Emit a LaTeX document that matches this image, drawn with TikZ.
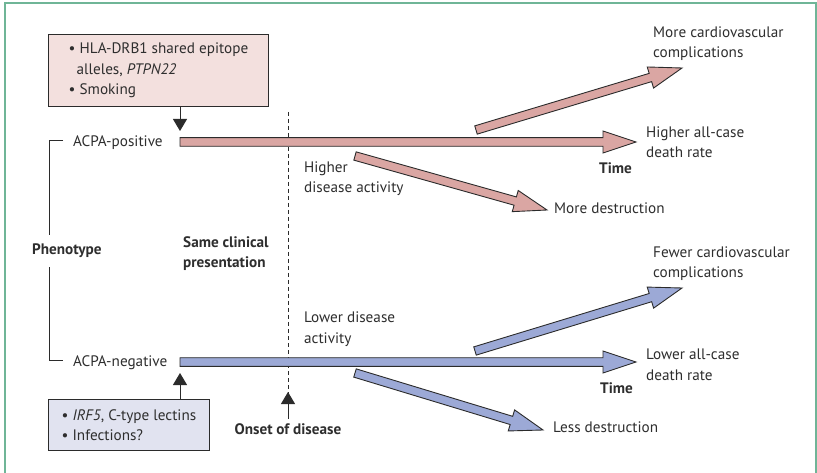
\documentclass[tikz,border=0pt]{standalone}
\usepackage{fontspec}
\setmainfont{PT Sans}
\usetikzlibrary{calc,arrows.meta}
\definecolor{framegreen}{HTML}{6FB597}
\definecolor{txtgray}{HTML}{2E2E2E}
\definecolor{linegray}{HTML}{2B2B2B}
\definecolor{pinkbar}{HTML}{DAA6A3}
\definecolor{pinkbox}{HTML}{F3E0DE}
\definecolor{bluebar}{HTML}{9CA9D6}
\definecolor{bluebox}{HTML}{E1E3F0}
\newcommand\fatarrow[3]{%
  \coordinate (fa-b) at ($(#2)!33pt!(#1)$);
  \draw[fatline, fill=#3]
    ($(#1)!4.3pt!90:(#2)$) -- ($(fa-b)!4.3pt!-90:(#1)$) -- ($(fa-b)!11pt!-90:(#1)$)
    -- (#2) -- ($(fa-b)!11pt!90:(#1)$) -- ($(fa-b)!4.3pt!90:(#1)$)
    -- ($(#1)!4.3pt!-90:(#2)$) -- cycle;}
\begin{document}
\begin{tikzpicture}[x=1pt,y=-1pt,
  txt/.style={anchor=base west, inner sep=0pt, text=txtgray,
    font=\fontsize{15.2}{20.5}\selectfont, align=left},
  bold/.style={txt, font=\fontsize{15.2}{20.5}\selectfont\bfseries},
  infobox/.style={draw=linegray, line width=0.9pt, anchor=north west, inner xsep=11pt,
    inner ysep=0pt, text=txtgray, font=\fontsize{15.2}{20.5}\selectfont, align=left},
  fatline/.style={draw=linegray, line width=0.9pt, line join=miter},
  thin/.style={draw=linegray, line width=1pt},
  tri/.style={thin, -{Triangle[length=12pt,width=14pt]}}]
\useasboundingbox (0,0) rectangle (817,473);
\fill[white] (0,0) rectangle (817,473);
\draw[framegreen, line width=1.3pt] (5,490) -- (5,3) -- (816,3) -- (816,490);

% genetic / environmental boxes
\node[infobox, fill=pinkbox, minimum width=220pt, minimum height=72pt] (gen1) at (48,34)
  {\textbullet\ HLA-DRB1 shared epitope\\\hspace*{8pt}alleles, \textit{PTPN22}\\\textbullet\ Smoking};
\node[infobox, fill=bluebox, minimum width=161pt, minimum height=51pt] (gen2) at (48,399)
  {\textbullet\ \textit{IRF5}, C-type lectins\\\textbullet\ Infections?};

% phenotype labels
\node[txt] (pos) at (73,147) {ACPA-positive};
\node[txt] (neg) at (73,366) {ACPA-negative};
\node[bold, inner ysep=9pt] (pheno) at (32,255) {Phenotype};
\coordinate (bT) at (49,141);
\coordinate (bB) at (49,360);
\draw[thin] ([xshift=-10pt]pos.west |- bT) -- (bT) -- (pheno.north -| bT);
\draw[thin] (pheno.south -| bB) -- (bB) -- ([xshift=-10pt]neg.west |- bB);

% onset of disease
\node[bold] (same) at (183,268) {Same clinical\\presentation};
\node[bold, anchor=base, inner ysep=4pt] (onset) at (288,434) {Onset of disease};
\coordinate (dTop) at (288,112);
\coordinate (onsetTip) at (288,392);
\draw[thin, dash pattern=on 4pt off 3pt] (dTop) -- ([yshift=-2pt]onsetTip);
\draw[tri] (onset.north) -- (onsetTip);

% outcome labels (anchor = baseline of last line)
\node[txt] (hda) at (304,193) {Higher\\disease activity};
\node[txt] (lda) at (304,343) {Lower disease\\activity};
\node[txt] (morecv) at (653,58) {More cardiovascular\\complications};
\node[txt] (highd) at (646,158) {Higher all-case\\death rate};
\node[bold] (time1) at (599,174) {Time};
\node[txt] (mored) at (554,214) {More destruction};
\node[txt] (fewcv) at (653,278) {Fewer cardiovascular\\complications};
\node[txt] (lowd) at (646,380) {Lower all-case\\death rate};
\node[bold] (time2) at (600,393) {Time};
\node[txt] (lessd) at (553,432) {Less destruction};

% fat arrows: ACPA-positive
\coordinate (pS) at (180,142);  \coordinate (pE) at (636,142);
\coordinate (pUS) at (476,130); \coordinate (pUE) at (682,68);
\coordinate (pDS) at (355,156); \coordinate (pDE) at (547,210);
\fatarrow{pUS}{pUE}{pinkbar}
\fatarrow{pDS}{pDE}{pinkbar}
\fatarrow{pS}{pE}{pinkbar}
% fat arrows: ACPA-negative
\coordinate (nS) at (180,362);  \coordinate (nE) at (636,362);
\coordinate (nUS) at (475,351); \coordinate (nUE) at (682,288);
\coordinate (nDS) at (355,373); \coordinate (nDE) at (543,430);
\fatarrow{nUS}{nUE}{bluebar}
\fatarrow{nDS}{nDE}{bluebar}
\fatarrow{nS}{nE}{bluebar}

% box arrows
\draw[tri] (gen1.south -| pS) -- ([yshift=11pt]pS);
\draw[tri] (gen2.north -| nS) -- ([yshift=-11pt]nS);
\end{tikzpicture}
\end{document}
